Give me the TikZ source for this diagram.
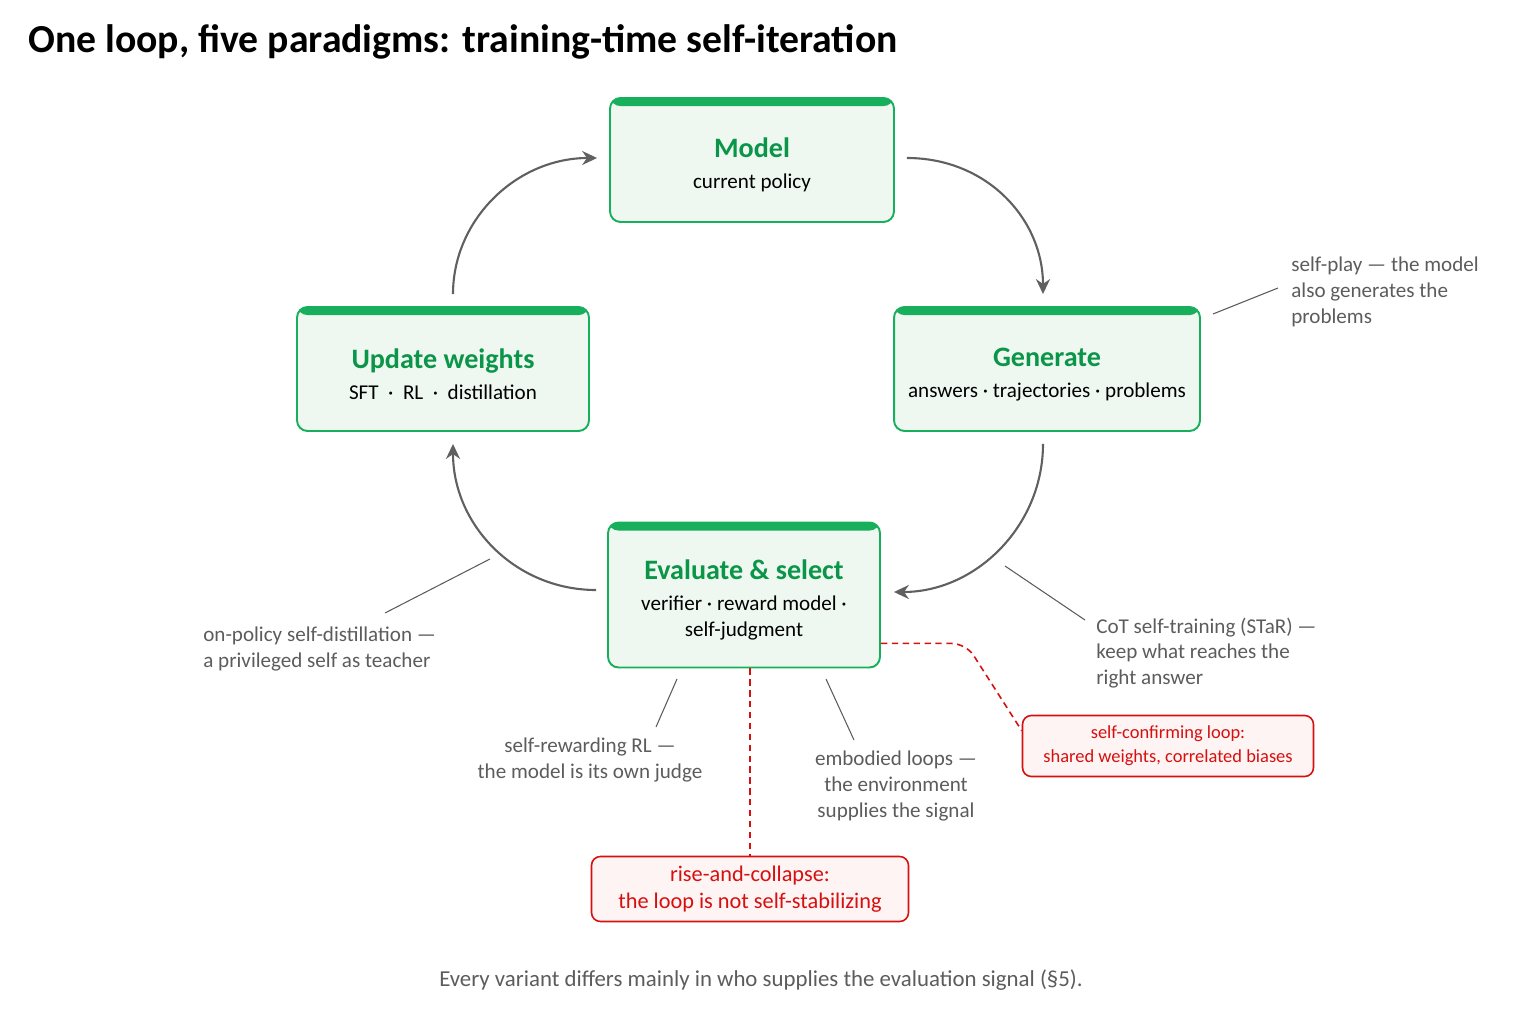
\documentclass[tikz,border=0pt]{standalone}
\usepackage{fontspec}
\setmainfont{Carlito}
\usetikzlibrary{arrows.meta}

\definecolor{loopgreen}{HTML}{17AE5C}
\definecolor{titlegreen}{HTML}{0B9548}
\definecolor{boxfill}{HTML}{EEF8F1}
\definecolor{arcgray}{HTML}{606060}
\definecolor{notegray}{HTML}{5C5C5C}
\definecolor{warnred}{HTML}{D60F0F}
\definecolor{warnfill}{HTML}{FFF4F4}

\newcommand{\stagetitle}[1]{{\fontsize{16}{19}\selectfont\bfseries\color{titlegreen}\rule{0pt}{17pt}#1}}

\begin{document}
\begin{tikzpicture}[x=0.02cm, y=-0.02cm,
    stage/.style={draw=loopgreen, line width=1.1pt, fill=boxfill, rounded corners=6pt,
        minimum height=2.48cm, align=center, font=\fontsize{12}{14.7}\selectfont,
        path picture={\fill[loopgreen] (path picture bounding box.north west)
            rectangle ([yshift=-4.6pt]path picture bounding box.north east);}},
    warn/.style={draw=warnred, line width=0.9pt, fill=warnfill, rounded corners=5pt,
        text=warnred, align=center},
    note/.style={text=notegray, font=\fontsize{12}{14.6}\selectfont, inner sep=0pt},
    loop/.style={draw=arcgray, line width=1.2pt, -{Stealth[length=8.5pt, width=8pt]}},
    lead/.style={draw=notegray, line width=0.6pt},
    redlink/.style={draw=warnred, line width=0.9pt, dash pattern=on 3.6pt off 2.6pt}]
    \useasboundingbox (0,0) rectangle (1536,1024);

    % Title
    \node[anchor=west, inner sep=0pt, font=\fontsize{22.6}{26}\selectfont\bfseries] (title) at (28,42)
        {One loop, five paradigms: training-time self-iteration};

    % The four stages
    \node[stage, minimum width=5.68cm] (model) at (752,160)
        {\stagetitle{Model}\\[3pt] current policy};
    \node[stage, minimum width=6.12cm] (gen) at (1047,369)
        {\stagetitle{Generate}\\[3pt] answers · trajectories · problems};
    \node[stage, minimum width=5.44cm, minimum height=2.9cm] (eval) at (744,595)
        {\stagetitle{Evaluate \& select}\\[3pt] verifier\ · reward model\ ·\\ self-judgment};
    \node[stage, minimum width=5.84cm] (upd) at (443,369)
        {\stagetitle{Update weights}\\[3pt] SFT\ \ ·\ \ RL\ \ ·\ \ distillation};

    % The loop
    \draw[loop] ([shift={(12,-2)}]model.east) .. controls +(80,0) and +(0,-75) .. ([shift={(-4,-12)}]gen.north);
    \draw[loop] ([shift={(-4,12)}]gen.south) .. controls +(0,82) and +(82,0) .. ([shift={(13,-3)}]eval.east);
    \draw[loop] ([shift={(-11,-5)}]eval.west) .. controls +(-80,0) and +(0,82) .. ([shift={(10,12)}]upd.south);
    \draw[loop] ([shift={(10,-12)}]upd.north) .. controls +(0,-75) and +(-80,0) .. ([shift={(-12,-2)}]model.west);

    % Paradigms
    \node[note, anchor=west, align=left] (selfplay) at (1291,292)
        {self-play — the model\\ also generates the\\ problems};
    \node[note, anchor=west, align=left] (star) at (1096,653)
        {CoT self-training (STaR) —\\ keep what reaches the\\ right answer};
    \node[note, anchor=west, align=left] (distill) at (203,649)
        {on-policy self-distillation —\\ a privileged self as teacher};
    \node[note, align=center] (selfreward) at (590,760)
        {self-rewarding RL —\\ the model is its own judge};
    \node[note, align=center] (embodied) at (896,786)
        {embodied loops —\\ the environment\\ supplies the signal};

    \coordinate (sp-a) at (1213,314);
    \coordinate (sp-b) at (1278,288);
    \coordinate (st-a) at (1005,566);
    \coordinate (st-b) at (1085,620);
    \coordinate (di-a) at (490,559);
    \coordinate (di-b) at (385,613);
    \coordinate (sr-a) at (677,679);
    \coordinate (sr-b) at (656,727);
    \coordinate (em-a) at (826,679);
    \coordinate (em-b) at (854,740);
    \draw[lead] (sp-a) -- (sp-b);
    \draw[lead] (st-a) -- (st-b);
    \draw[lead] (di-a) -- (di-b);
    \draw[lead] (sr-a) -- (sr-b);
    \draw[lead] (em-a) -- (em-b);

    % Failure modes
    \node[warn, minimum width=6.34cm, minimum height=1.3cm, font=\fontsize{12.7}{15}\selectfont] (rise) at (750,889)
        {rise-and-collapse:\\ the loop is not self-stabilizing};
    \node[warn, minimum width=5.82cm, minimum height=1.22cm, font=\fontsize{10.5}{13.5}\selectfont] (confirm) at (1168,746)
        {self-confirming loop:\\ shared weights, correlated biases};

    \draw[redlink] (eval.south -| rise.north) -- (rise.north);
    \draw[redlink, rounded corners=8pt] ([shift={(0,-25)}]eval.south east) -- ++(85,0)
        -- ([shift={(0,16)}]confirm.north west);

    % Footer
    \node[text=notegray, font=\fontsize{13}{15}\selectfont] (footer) at (761,980)
        {Every variant differs mainly in who supplies the evaluation signal (§5).};
\end{tikzpicture}
\end{document}
